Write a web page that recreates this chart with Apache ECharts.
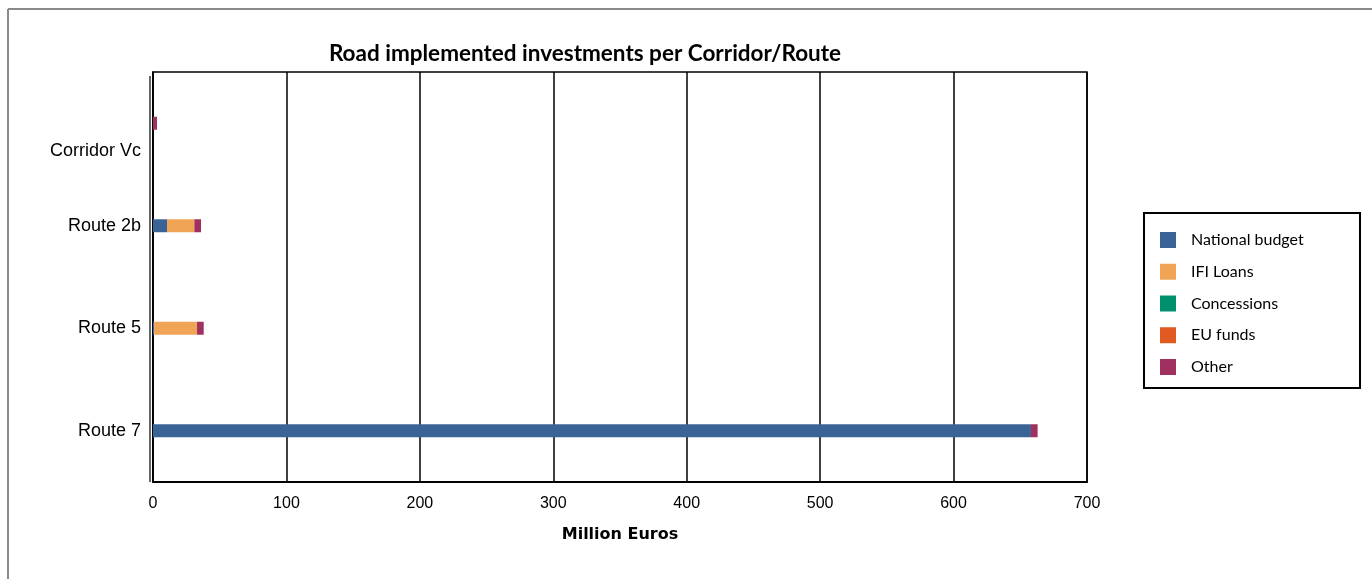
<!DOCTYPE html>
<html>
<head>
<meta charset="utf-8">
<script src="https://cdn.jsdelivr.net/npm/echarts@6/dist/echarts.min.js"></script>
<style>
html,body{margin:0;padding:0;background:#fff;}
#chart{width:1372px;height:579px;}
</style>
</head>
<body>
<div id="chart"></div>
<script>
const categories = ['Route 7', 'Route 5', 'Route 2b', 'Corridor Vc'];
const seriesNames = ['National budget', 'IFI Loans', 'Concessions', 'EU funds', 'Other'];
const nationalBudget = [658, 1, 10.5, 0];
const ifiLoans = [0, 32, 20.5, 0];
const concessions = [0, 0, 0, 0];
const euFunds = [0, 0, 0, 0];
const other = [5, 5, 5, 3];
const xTicks = [0, 100, 200, 300, 400, 500, 600, 700];
const colors = ['#3A6496', '#F0A456', '#00906E', '#E05A22', '#A0305F'];

const dataSets = [nationalBudget, ifiLoans, concessions, euFunds, other];

const chart = echarts.init(document.getElementById('chart'), null, {renderer: 'canvas'});
chart.setOption({
  animation: false,
  backgroundColor: '#fff',
  title: {
    text: 'Road implemented investments per Corridor/Route',
    left: 580,
    top: 37,
    textAlign: 'center',
    textStyle: {fontFamily: 'Lato', fontWeight: 'bold', fontSize: 22.5, color: '#000'}
  },
  legend: {
    orient: 'vertical',
    left: 1155,
    top: 227,
    itemWidth: 16,
    itemHeight: 16,
    itemGap: 15.75,
    icon: 'rect',
    data: seriesNames,
    textStyle: {fontFamily: 'Lato', fontSize: 16, lineHeight: 16, color: '#000', padding: [0, 0, 0, 10]}
  },
  grid: {
    left: 153, width: 934, top: 72, bottom: 97,
    show: true, borderColor: '#000', borderWidth: 1.5, containLabel: false
  },
  xAxis: {
    type: 'value',
    min: xTicks[0],
    max: xTicks[xTicks.length - 1],
    interval: xTicks[1] - xTicks[0],
    name: 'Million Euros',
    nameLocation: 'middle',
    nameGap: 45,
    nameTextStyle: {fontFamily: 'DejaVu Sans', fontWeight: 'bold', fontSize: 16, color: '#000'},
    axisLine: {show: true, lineStyle: {color: '#000', width: 2}},
    axisTick: {show: false},
    axisLabel: {fontFamily: 'Liberation Sans', fontSize: 16, color: '#000', margin: 14},
    splitLine: {show: true, lineStyle: {color: '#000', width: 1.5}}
  },
  yAxis: {
    type: 'category',
    data: categories,
    axisLine: {show: true, lineStyle: {color: '#000', width: 1.5}},
    axisTick: {show: false},
    axisLabel: {
      fontFamily: 'Liberation Sans', fontSize: 18, color: '#000', margin: 12,
      formatter: function (v) { return v === 'Corridor Vc' ? '{low|' + v + '}' : v; },
      rich: {low: {fontFamily: 'Liberation Sans', fontSize: 18, color: '#000', padding: [56, 0, 0, 0]}}
    },
    splitLine: {show: false}
  },
  graphic: [
    {type: 'line', shape: {x1: 8, y1: 9, x2: 1372, y2: 9}, style: {stroke: '#8a8a8a', lineWidth: 2}, silent: true},
    {type: 'line', shape: {x1: 8, y1: 9, x2: 8, y2: 579}, style: {stroke: '#8a8a8a', lineWidth: 2}, silent: true},
    {type: 'line', shape: {x1: 150, y1: 76, x2: 150, y2: 482}, style: {stroke: '#000', lineWidth: 1.2}, silent: true},
    {type: 'rect', shape: {x: 1144, y: 213, width: 216, height: 175}, style: {fill: 'none', stroke: '#000', lineWidth: 2}, silent: true, z: 10}
  ],
  series: seriesNames.map(function (name, i) {
    return {
      name: name,
      type: 'bar',
      stack: 'total',
      barWidth: 13,
      data: dataSets[i],
      itemStyle: {color: colors[i]}
    };
  })
});
</script>
</body>
</html>
